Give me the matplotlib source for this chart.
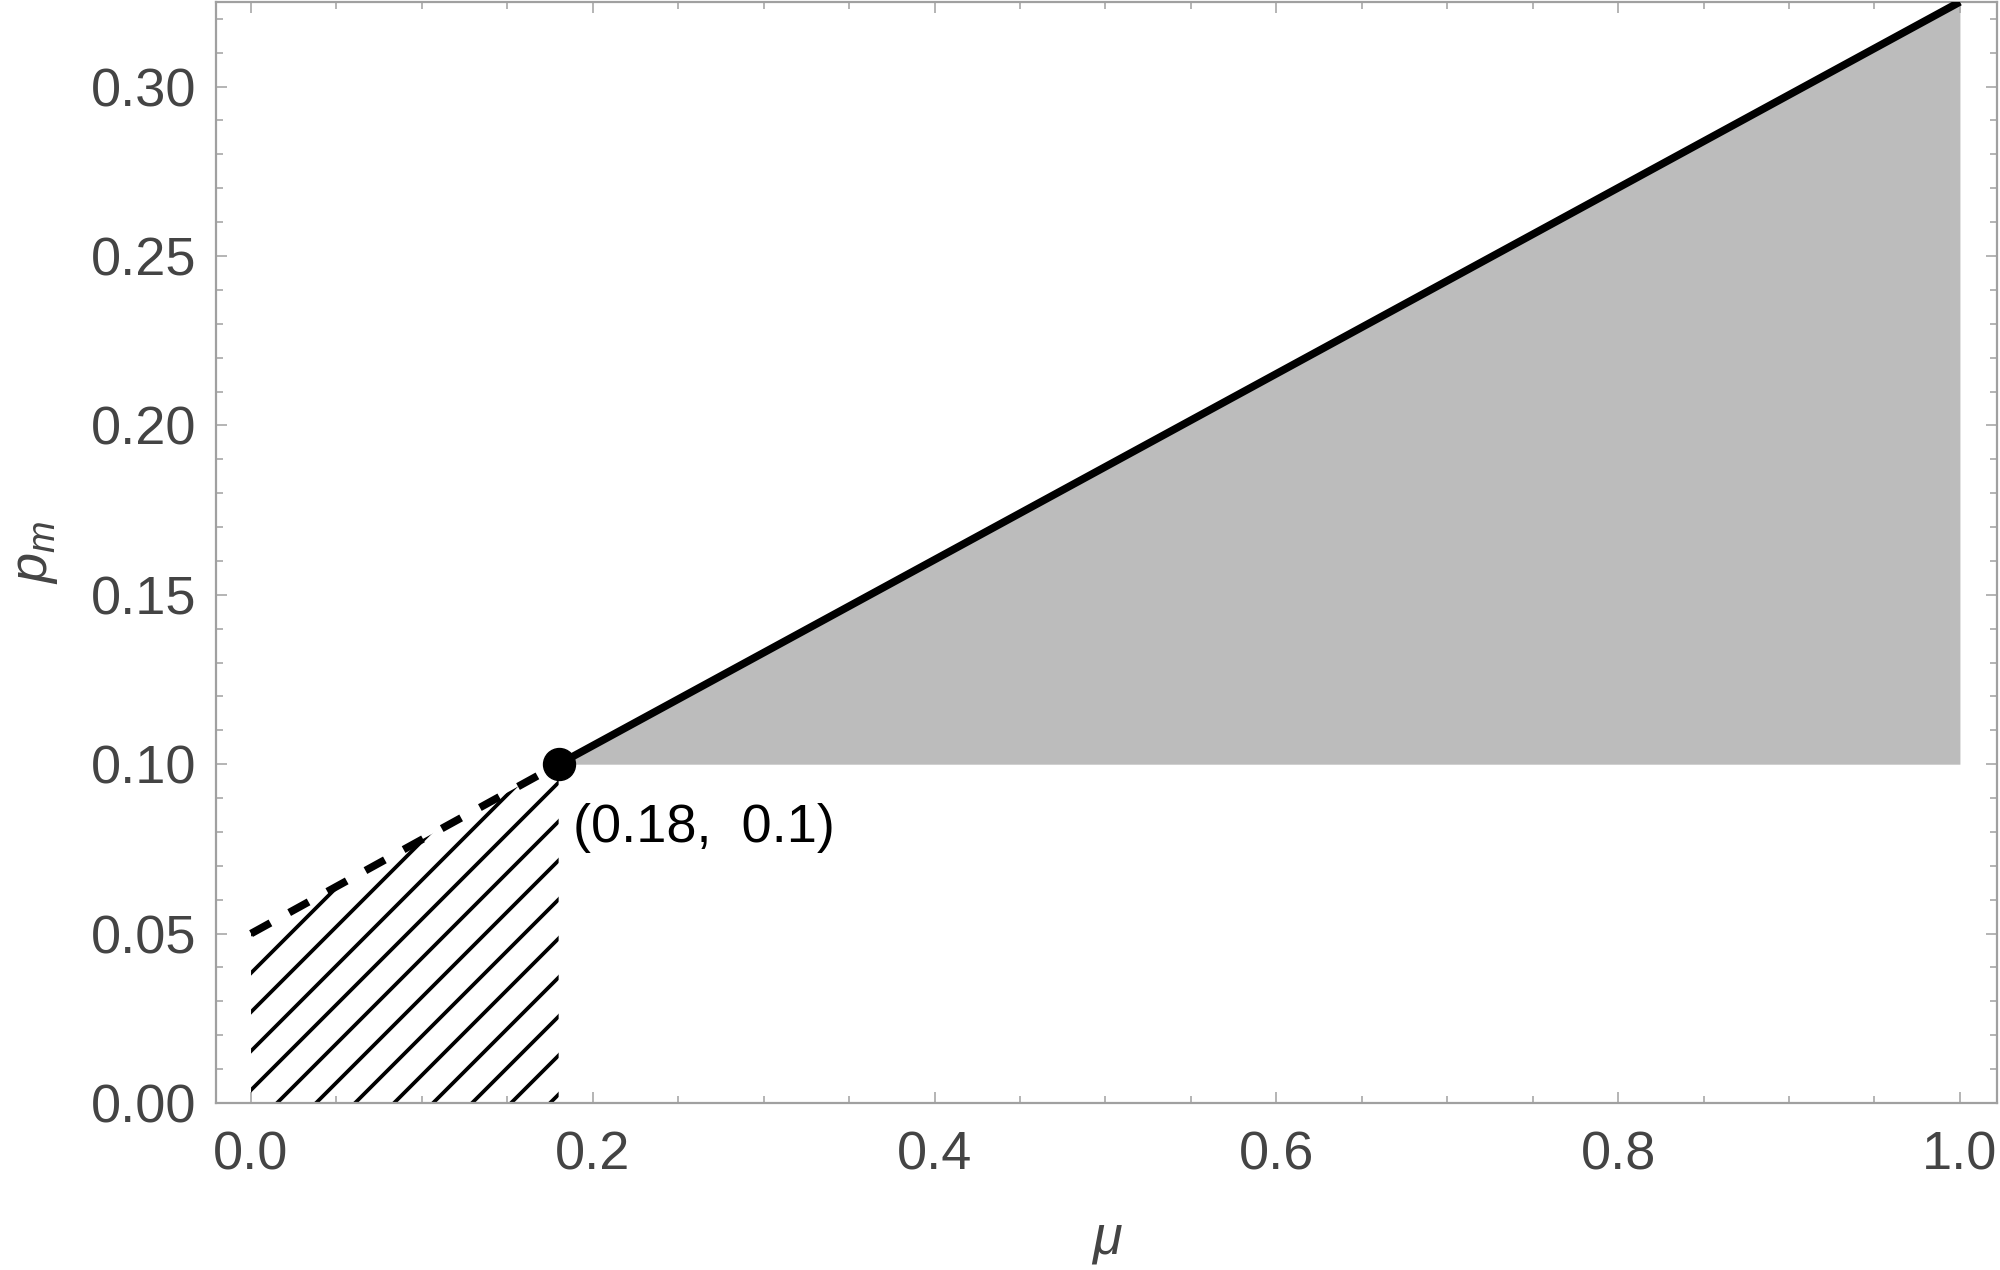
import numpy as np
import matplotlib
matplotlib.use("Agg")
import matplotlib.pyplot as plt
from matplotlib.patches import Polygon
from matplotlib.ticker import MultipleLocator, FormatStrFormatter

plt.rcParams['font.family'] = ['Liberation Sans', 'DejaVu Sans']
plt.rcParams['mathtext.fontset'] = 'custom'
plt.rcParams['mathtext.it'] = 'Liberation Sans:italic'
plt.rcParams['mathtext.rm'] = 'Liberation Sans'

# boundary data
kink_mu, kink_p = 0.18, 0.10
solid_mu = [0.18, 1.00]
solid_p = [0.10, 0.325]
dash_mu = [0.00, 0.18]
dash_p = [0.05, 0.10]
floor_p = 0.10
hatch_mu = [0.00, 0.18, 0.18, 0.00]
hatch_p = [0.00, 0.00, 0.10, 0.05]

frame = '#a0a0a0'
txt = '#444444'

fig = plt.figure(figsize=(20, 12.7), dpi=100)
ax = fig.add_axes([0.108, 0.1315, 0.8905, 0.867])
ax.set_xlim(-0.0205, 1.0217)
ax.set_ylim(0, 0.325)

# gray region
ax.fill_between(solid_mu, [floor_p, floor_p], solid_p, color='#bcbcbc', lw=0, zorder=1)

# hatched region: 45 degree lines in screen space, clipped to polygon
poly = Polygon(np.column_stack([hatch_mu, hatch_p]), closed=True, fc='none', ec='none')
ax.add_patch(poly)
fig.canvas.draw()
(x0p, y0p), (x1p, y1p) = ax.transData.transform([(0, 0), (1, 1)])
slope = (x1p - x0p) / (y1p - y0p)   # data dy/dx for 45deg on screen
step = 39.0 / (x1p - x0p)            # ~39 px spacing along x
start = -0.0076
for k in range(-10, 20):
    m0 = start + k * step
    xs = np.array([m0 - 0.3, m0 + 0.5])
    ln, = ax.plot(xs, slope * (xs - m0), color='black', lw=2.7, zorder=2,
                  solid_capstyle='butt')
    ln.set_clip_path(poly)

# boundary lines
ax.plot(dash_mu, dash_p, color='black', lw=5.5, dashes=(2.9, 2.8),
        dash_capstyle='butt', zorder=3)
ax.plot(solid_mu, solid_p, color='black', lw=5.5, zorder=3, solid_capstyle='butt')
ax.plot([kink_mu], [kink_p], 'o', color='black', ms=23, zorder=4)
ax.annotate('(0.18,  0.1)', (kink_mu, kink_p), xytext=(14, -64),
            textcoords='offset pixels', ha='left', va='center',
            fontsize=39, color='black')

# frame and ticks
for s in ax.spines.values():
    s.set_color(frame)
    s.set_linewidth(1.6)
ax.xaxis.set_major_locator(MultipleLocator(0.2))
ax.xaxis.set_minor_locator(MultipleLocator(0.05))
ax.yaxis.set_major_locator(MultipleLocator(0.05))
ax.yaxis.set_minor_locator(MultipleLocator(0.01))
ax.xaxis.set_major_formatter(FormatStrFormatter('%.1f'))
ax.yaxis.set_major_formatter(FormatStrFormatter('%.2f'))
ax.tick_params(which='both', direction='in', top=True, right=True,
               color=frame, width=1.1, labelsize=39, labelcolor=txt)
ax.tick_params(which='major', length=8)
ax.tick_params(which='minor', length=5)
ax.tick_params(axis='x', which='major', pad=20)
ax.tick_params(axis='y', which='major', pad=14)

ax.set_xlabel('μ', fontsize=39, style='italic', color=txt, labelpad=24)
ax.set_ylabel(r'$p_m$', fontsize=39, color=txt, labelpad=22)

fig.savefig('out.png', dpi=100)
